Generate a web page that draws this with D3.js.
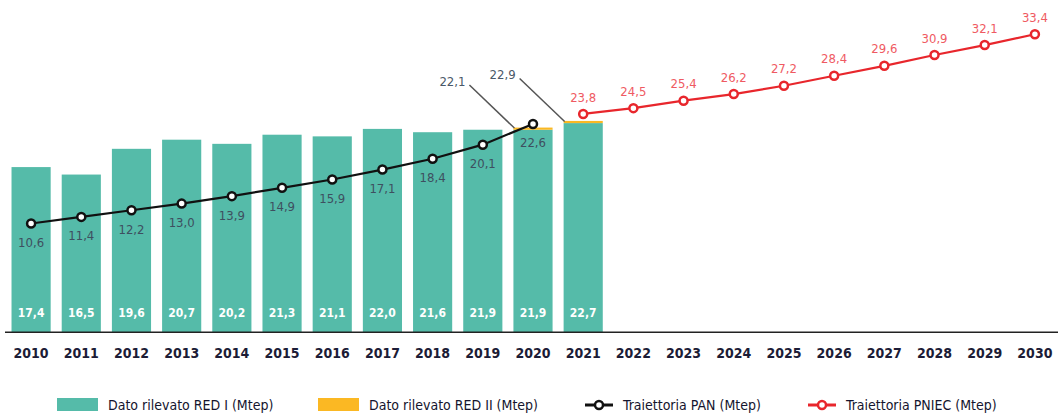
<!DOCTYPE html>
<html>
<head>
<meta charset="utf-8">
<script src="https://cdn.jsdelivr.net/npm/d3@7"></script>
<style>
  body { margin: 0; background: #fff; }
  svg { display: block; font-family: "DejaVu Sans Condensed", "Liberation Sans Narrow", sans-serif; }
</style>
</head>
<body>
<svg id="chart" width="1059" height="418"></svg>
<script>
const years = ['2010', '2011', '2012', '2013', '2014', '2015', '2016', '2017', '2018', '2019', '2020',
               '2021', '2022', '2023', '2024', '2025', '2026', '2027', '2028', '2029', '2030'];

// dato rilevato RED I, 2010-2021
const redI = [17.4, 16.5, 19.6, 20.7, 20.2, 21.3, 21.1, 22.0, 21.6, 21.9, 21.9, 22.7];
// dato rilevato RED II (2020, 2021)
const redIIYears = ['2020', '2021'];
const redII = [22.1, 22.9];
// traiettoria PAN 2010-2020
const pan = [10.6, 11.4, 12.2, 13.0, 13.9, 14.9, 15.9, 17.1, 18.4, 20.1, 22.6];
// traiettoria PNIEC 2021-2030
const pniec = [23.8, 24.5, 25.4, 26.2, 27.2, 28.4, 29.6, 30.9, 32.1, 33.4];

const legendLabels = ['Dato rilevato RED I (Mtep)', 'Dato rilevato RED II (Mtep)',
                      'Traiettoria PAN (Mtep)', 'Traiettoria PNIEC (Mtep)'];

const green = '#55bba9', orange = '#fbb823', red = '#e8262c', black = '#111';
const fmt = v => d3.format('.1f')(v).replace('.', ',');

const svg = d3.select('#chart');

const x = d3.scaleBand().domain(years).range([6, 1060]).paddingInner(0.22).paddingOuter(0.11);
const y = d3.scaleLinear().domain([-2.5, 35]).range([332.25, 21]);
const baseY = y.range()[0];
const cx = d => x(d) + x.bandwidth() / 2;

const barData = redI.map((v, i) => ({ year: years[i], v }));
const red2Data = redII.map((v, i) => ({ year: redIIYears[i], v, base: redI[years.indexOf(redIIYears[i])] }));
const panData = pan.map((v, i) => ({ year: years[i], v }));
const pniecData = pniec.map((v, i) => ({ year: years[i + 11], v }));

// bars
svg.append('g').selectAll('rect')
  .data(barData)
  .enter().append('rect')
  .attr('x', d => x(d.year))
  .attr('y', d => y(d.v))
  .attr('width', x.bandwidth())
  .attr('height', d => baseY - y(d.v))
  .attr('fill', green);

// RED II, stacked on top of RED I (a bit thicker so it shows)
svg.append('g').selectAll('rect')
  .data(red2Data)
  .enter().append('rect')
  .attr('x', d => x(d.year))
  .attr('y', d => y(d.v) - 0.5)
  .attr('width', x.bandwidth())
  .attr('height', d => y(d.base) - y(d.v) + 0.5)
  .attr('fill', orange);

svg.append('g').selectAll('text')
  .data(barData)
  .enter().append('text')
  .attr('x', d => cx(d.year))
  .attr('y', 313)
  .attr('dy', '0.35em')
  .attr('text-anchor', 'middle')
  .attr('fill', '#fff')
  .attr('font-weight', 'bold')
  .attr('font-size', 12)
  .text(d => fmt(d.v));

// leader labels for RED II
const lead = svg.append('g').selectAll('g').data(red2Data).enter().append('g');
lead.append('line')
  .attr('x1', d => x(d.year) - 44)
  .attr('y1', d => y(d.v) - 43)
  .attr('x2', d => x(d.year) + 1)
  .attr('y2', d => y(d.v))
  .attr('stroke', '#555')
  .attr('stroke-width', 1.5);
lead.append('text')
  .attr('x', d => x(d.year) - 61)
  .attr('y', d => y(d.v) - 47)
  .attr('dy', '0.35em')
  .attr('text-anchor', 'middle')
  .attr('font-size', 13)
  .attr('fill', '#4a5868')
  .text(d => fmt(d.v));

// x axis
svg.append('line')
  .attr('x1', 5).attr('x2', 1058)
  .attr('y1', baseY).attr('y2', baseY)
  .attr('stroke', '#222').attr('stroke-width', 1.6);

svg.append('g').selectAll('text')
  .data(years)
  .enter().append('text')
  .attr('x', d => cx(d))
  .attr('y', 353)
  .attr('dy', '0.35em')
  .attr('text-anchor', 'middle')
  .attr('font-weight', 'bold')
  .attr('font-size', 14)
  .attr('fill', '#1c1c36')
  .text(d => d);

// lines
const line = d3.line().x(d => cx(d.year)).y(d => y(d.v));

function drawSeries(data, color, labelColor, labelDy) {
  const g = svg.append('g');
  g.append('path')
    .datum(data)
    .attr('d', line)
    .attr('fill', 'none')
    .attr('stroke', color)
    .attr('stroke-width', 2.2);
  g.selectAll('circle')
    .data(data)
    .enter().append('circle')
    .attr('cx', d => cx(d.year))
    .attr('cy', d => y(d.v))
    .attr('r', 4)
    .attr('fill', '#fff')
    .attr('stroke', color)
    .attr('stroke-width', 2.5);
  g.selectAll('text')
    .data(data)
    .enter().append('text')
    .attr('x', d => cx(d.year))
    .attr('y', d => y(d.v) + labelDy)
    .attr('dy', '0.35em')
    .attr('text-anchor', 'middle')
    .attr('font-size', 13)
    .attr('fill', labelColor)
    .text(d => fmt(d.v));
}

drawSeries(panData, black, '#3e4f60', 19);
drawSeries(pniecData, red, '#ef5a62', -17);

// legend
const legend = svg.append('g');
const legendY = 405;
const swatches = [
  { x: 57, color: green, text: legendLabels[0] },
  { x: 318, color: orange, text: legendLabels[1] }
];
swatches.forEach(s => {
  legend.append('rect')
    .attr('x', s.x).attr('y', legendY - 7)
    .attr('width', 41).attr('height', 13)
    .attr('fill', s.color);
  legend.append('text')
    .attr('x', s.x + 51).attr('y', legendY)
    .attr('dy', '0.35em')
    .attr('font-size', 14)
    .attr('fill', '#15152e')
    .text(s.text);
});
const markers = [
  { x: 585, color: black, text: legendLabels[2] },
  { x: 808, color: red, text: legendLabels[3] }
];
markers.forEach(m => {
  legend.append('line')
    .attr('x1', m.x).attr('x2', m.x + 28)
    .attr('y1', legendY).attr('y2', legendY)
    .attr('stroke', m.color).attr('stroke-width', 3);
  legend.append('circle')
    .attr('cx', m.x + 14).attr('cy', legendY)
    .attr('r', 4)
    .attr('fill', '#fff')
    .attr('stroke', m.color).attr('stroke-width', 2.5);
  legend.append('text')
    .attr('x', m.x + 38).attr('y', legendY)
    .attr('dy', '0.35em')
    .attr('font-size', 14)
    .attr('fill', '#15152e')
    .text(m.text);
});
</script>
</body>
</html>
